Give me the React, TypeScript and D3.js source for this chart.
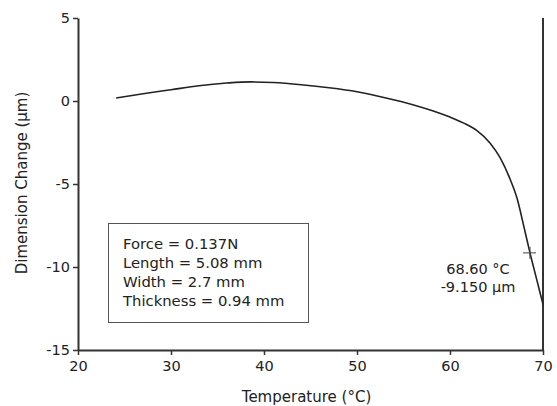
import React, { useEffect, useRef } from 'react';
import * as d3 from 'd3';

// values
const temps = [24.1, 27, 30, 33, 36, 38.5, 41, 44, 47, 50, 53, 56, 58.2, 60, 61.8, 62.9, 64.3, 65.4, 66.5, 67.2, 68.0, 68.6, 69.3, 70.0];
const dims = [0.18, 0.44, 0.68, 0.92, 1.08, 1.15, 1.11, 0.98, 0.8, 0.56, 0.2, -0.22, -0.6, -0.97, -1.42, -1.78, -2.53, -3.43, -4.76, -5.84, -7.7, -9.15, -10.7, -12.25];
const xTicks = [20, 30, 40, 50, 60, 70];
const yTicks = [5, 0, -5, -10, -15];
const legendLines = ['Force = 0.137N', 'Length = 5.08 mm', 'Width = 2.7 mm', 'Thickness = 0.94 mm'];
const cursor = { t: 68.6, d: -9.15, label1: '68.60 °C', label2: '-9.150 µm' };

const W = 557, H = 406;
const margin = { top: 18, right: 14, bottom: 56, left: 78 };
const font = '"DejaVu Sans", Verdana, sans-serif';

const App = () => {
    const anchor = useRef<SVGSVGElement>(null);

    useEffect(() => {
        const svg = d3.select(anchor.current);
        svg.selectAll('*').remove();

        const x = d3.scaleLinear().domain([20, 70]).range([margin.left, W - margin.right]);
        const y = d3.scaleLinear().domain([-15, 5]).range([H - margin.bottom, margin.top]);

        // x axis
        const xAxis = svg.append('g')
            .attr('transform', 'translate(0,' + y(-15) + ')')
            .call(d3.axisBottom(x).tickValues(xTicks).tickFormat((d) => String(d)).tickSize(5).tickSizeOuter(0).tickPadding(6));
        // y axis
        const yAxis = svg.append('g')
            .attr('transform', 'translate(' + x(20) + ',0)')
            .call(d3.axisLeft(y).tickValues(yTicks).tickFormat((d) => String(d)).tickSize(5).tickSizeOuter(0).tickPadding(3));

        [xAxis, yAxis].forEach((a) => {
            a.select('.domain').attr('stroke', '#333').attr('stroke-width', 2);
            a.selectAll('.tick line').attr('stroke', '#333').attr('stroke-width', 1.5);
            a.selectAll('.tick text').attr('fill', '#222').style('font-family', font).style('font-size', '14.5px');
        });

        // right boundary line
        svg.append('line')
            .attr('x1', x(70)).attr('x2', x(70))
            .attr('y1', y(5)).attr('y2', y(-15))
            .attr('stroke', '#333').attr('stroke-width', 2);

        // data curve
        const line = d3.line<number>()
            .x((d, i) => x(temps[i]))
            .y((d) => y(d))
            .curve(d3.curveMonotoneX);
        svg.append('path')
            .datum(dims)
            .attr('d', line)
            .attr('fill', 'none')
            .attr('stroke', '#222')
            .attr('stroke-width', 1.6);

        // cursor cross
        const cx = x(cursor.t), cy = y(cursor.d);
        svg.append('line').attr('x1', cx - 7).attr('x2', cx + 6).attr('y1', cy).attr('y2', cy).attr('stroke', '#444').attr('stroke-width', 1);
        svg.append('line').attr('x1', cx).attr('x2', cx).attr('y1', cy - 6).attr('y2', cy + 6).attr('stroke', '#444').attr('stroke-width', 1);
        svg.append('text').attr('x', 478).attr('y', cy + 21).attr('text-anchor', 'middle')
            .style('font-family', font).style('font-size', '14.5px').attr('fill', '#222').text(cursor.label1);
        svg.append('text').attr('x', 478).attr('y', cy + 39).attr('text-anchor', 'middle')
            .style('font-family', font).style('font-size', '14.5px').attr('fill', '#222').text(cursor.label2);

        // legend box
        svg.append('rect')
            .attr('x', 108.5).attr('y', 223.5).attr('width', 200).attr('height', 99)
            .attr('fill', 'white').attr('stroke', '#555').attr('stroke-width', 1);
        svg.append('g').selectAll('text').data(legendLines).enter().append('text')
            .attr('x', 123)
            .attr('y', (d, i) => 249 + i * 19)
            .style('font-family', font).style('font-size', '14.8px').attr('fill', '#222')
            .text((d) => d);

        // axis titles
        svg.append('text')
            .attr('x', (x(20) + x(70)) / 2 - 4).attr('y', 402)
            .attr('text-anchor', 'middle')
            .style('font-family', font).style('font-size', '15px').attr('fill', '#222')
            .text('Temperature (°C)');
        svg.append('text')
            .attr('transform', 'translate(27,' + (y(-5) - 1) + ') rotate(-90)')
            .attr('text-anchor', 'middle')
            .style('font-family', font).style('font-size', '15px').attr('fill', '#222')
            .text('Dimension Change (µm)');
    }, []);

    return <div style={{ position: 'absolute', left: 0, top: 0 }}>
        <svg ref={anchor} width={W} height={H} style={{ display: 'block', background: 'white' }} />
    </div>;
};

export default App;
